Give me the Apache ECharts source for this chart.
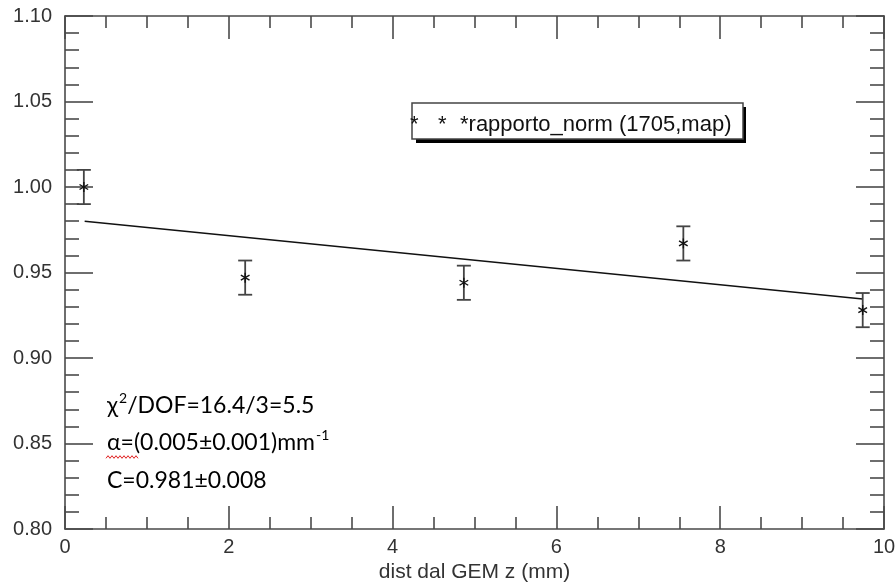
<!DOCTYPE html>
<html>
<head>
<meta charset="utf-8">
<script src="https://cdn.jsdelivr.net/npm/echarts@6/dist/echarts.min.js"></script>
<style>
  html, body { margin: 0; padding: 0; background: #fff; }
  #chart { width: 896px; height: 583px; }
</style>
</head>
<body>
<div id="chart"></div>
<script>
// Measured ratio vs. distance from the GEM, with symmetric errors
const zPos = [0.23, 2.2, 4.87, 7.55, 9.74];
const ratio = [1.000, 0.947, 0.944, 0.967, 0.928];
const ratioErr = [0.010, 0.010, 0.010, 0.010, 0.010];

// Fit line end points
const fitZ = [0.24, 9.74];
const fitY = [0.980, 0.9345];

const xTicks = { min: 0, max: 10, interval: 2 };
const yTicks = { min: 0.80, max: 1.10, interval: 0.05 };

const seriesName = 'rapporto_norm (1705,map)';
const fitText = [
  '{a|χ}{s|2}{a|/DOF=16.4/3=5.5}',
  '{a|α=(0.005±0.001)mm}{s|-1}',
  '{a|C=0.981±0.008}'
];

const axisColor = '#4a4a4a';
const labelFont = 'Liberation Sans';

const chart = echarts.init(document.getElementById('chart'), null, { renderer: 'canvas' });

function xAxisDef(pos, showLabel) {
  return {
    type: 'value', position: pos, min: xTicks.min, max: xTicks.max, interval: xTicks.interval,
    axisLine: { show: true, onZero: false, lineStyle: { color: axisColor, width: 1.6 } },
    axisTick: { show: true, inside: true, length: 23, lineStyle: { color: axisColor, width: 1.6 } },
    minorTick: { show: true, splitNumber: 4, length: 12, lineStyle: { color: axisColor, width: 1.6 } },
    splitLine: { show: false },
    axisLabel: { show: showLabel, margin: 8, fontSize: 20, color: '#333', fontFamily: labelFont },
    name: showLabel ? 'dist dal GEM z (mm)' : '',
    nameLocation: 'middle', nameGap: 32,
    nameTextStyle: { fontSize: 21, color: '#333', fontFamily: labelFont }
  };
}
function yAxisDef(pos, showLabel) {
  return {
    type: 'value', position: pos, min: yTicks.min, max: yTicks.max, interval: yTicks.interval,
    axisLine: { show: true, onZero: false, lineStyle: { color: axisColor, width: 1.6 } },
    axisTick: { show: true, inside: true, length: 28, lineStyle: { color: axisColor, width: 1.6 } },
    minorTick: { show: true, splitNumber: 5, length: 14, lineStyle: { color: axisColor, width: 1.6 } },
    splitLine: { show: false },
    axisLabel: { show: showLabel, margin: 13, fontSize: 20, color: '#333', fontFamily: labelFont,
      formatter: v => v.toFixed(2) }
  };
}

const pointData = zPos.map((z, i) => [z, ratio[i], ratioErr[i]]);

// Error bar with caps plus an asterisk marker
function renderPoint(params, api) {
  const x = api.value(0), y = api.value(1), e = api.value(2);
  const c = api.coord([x, y]);
  const hi = api.coord([x, y + e]);
  const lo = api.coord([x, y - e]);
  const cap = 7, r = 5;
  const barStyle = { stroke: '#444', lineWidth: 1.8 };
  const starStyle = { stroke: '#111', lineWidth: 1.4 };
  const dx = r * Math.cos(Math.PI / 6), dy = r * Math.sin(Math.PI / 6);
  return {
    type: 'group',
    children: [
      { type: 'line', shape: { x1: hi[0], y1: hi[1], x2: lo[0], y2: lo[1] }, style: barStyle },
      { type: 'line', shape: { x1: hi[0] - cap, y1: hi[1], x2: hi[0] + cap, y2: hi[1] }, style: barStyle },
      { type: 'line', shape: { x1: lo[0] - cap, y1: lo[1], x2: lo[0] + cap, y2: lo[1] }, style: barStyle },
      { type: 'line', shape: { x1: c[0], y1: c[1] - r, x2: c[0], y2: c[1] + r }, style: starStyle },
      { type: 'line', shape: { x1: c[0] - dx, y1: c[1] - dy, x2: c[0] + dx, y2: c[1] + dy }, style: starStyle },
      { type: 'line', shape: { x1: c[0] - dx, y1: c[1] + dy, x2: c[0] + dx, y2: c[1] - dy }, style: starStyle }
    ]
  };
}

// red wavy spell-check underline under "α="
const wavy = [];
for (let i = 0; i <= 16; i++) wavy.push([106 + i * 2, 457 + (i % 2 ? -1.3 : 1.3)]);

const richStyle = {
  a: { fontSize: 23, fontFamily: 'Lato', color: '#1a1a1a' },
  s: { fontSize: 14, fontFamily: 'Lato', color: '#1a1a1a', verticalAlign: 'top', padding: [0, 0, 0, 1] }
};

const legendTextStyle = { fontSize: 22, fontFamily: labelFont, fill: '#111', verticalAlign: 'middle', align: 'left' };

chart.setOption({
  animation: false,
  backgroundColor: '#fff',
  grid: { left: 65, right: 12, top: 16, bottom: 54, containLabel: false, outerBoundsMode: 'none' },
  xAxis: [xAxisDef('bottom', true), xAxisDef('top', false)],
  yAxis: [yAxisDef('left', true), yAxisDef('right', false)],
  series: [
    {
      type: 'line', name: 'fit', xAxisIndex: 0, yAxisIndex: 0,
      data: fitZ.map((z, i) => [z, fitY[i]]),
      symbol: 'none', lineStyle: { color: '#111', width: 1.4 }, z: 2
    },
    {
      type: 'custom', name: seriesName, xAxisIndex: 0, yAxisIndex: 0,
      data: pointData, renderItem: renderPoint, z: 3
    }
  ],
  graphic: [
    // legend box with drop shadow
    { type: 'rect', shape: { x: 416, y: 107, width: 330, height: 36 }, style: { fill: '#000' }, z: 10 },
    { type: 'rect', shape: { x: 412, y: 103, width: 331, height: 36 },
      style: { fill: '#fff', stroke: '#444', lineWidth: 1.5 }, z: 11 },
    { type: 'text', x: 410, y: 125, z: 12, style: Object.assign({ text: '*' }, legendTextStyle) },
    { type: 'text', x: 438, y: 125, z: 12, style: Object.assign({ text: '*' }, legendTextStyle) },
    { type: 'text', x: 460, y: 125, z: 12, style: Object.assign({ text: '*' + seriesName }, legendTextStyle) },
    // fit results
    { type: 'text', x: 107, y: 406, z: 12,
      style: { text: fitText[0], rich: richStyle, verticalAlign: 'middle', lineHeight: 30 } },
    { type: 'text', x: 107, y: 443, z: 12,
      style: { text: fitText[1], rich: richStyle, verticalAlign: 'middle', lineHeight: 30 } },
    { type: 'text', x: 107, y: 481, z: 12,
      style: { text: fitText[2], rich: richStyle, verticalAlign: 'middle', lineHeight: 30 } },
    { type: 'polyline', shape: { points: wavy }, style: { stroke: '#e02020', lineWidth: 1, fill: null }, z: 12 }
  ]
});
</script>
</body>
</html>
